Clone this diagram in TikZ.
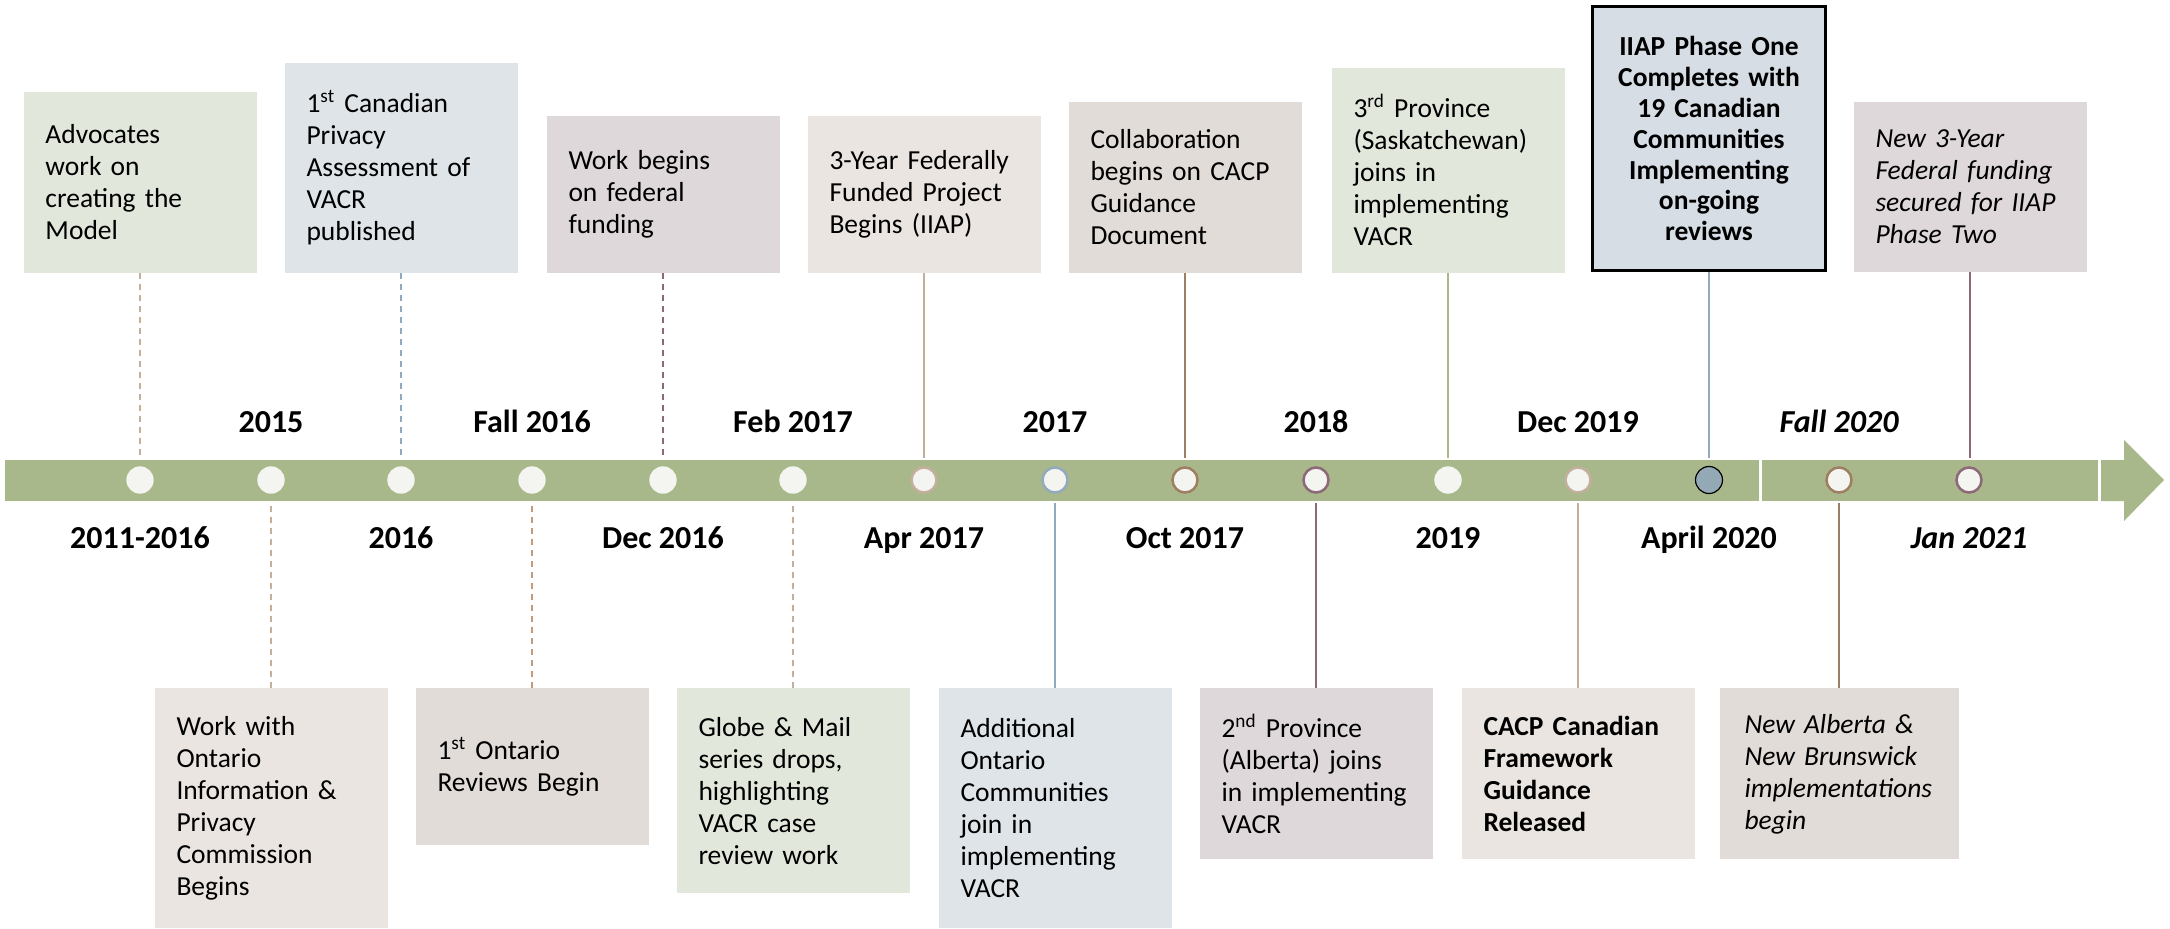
\documentclass[tikz,border=0pt]{standalone}
\usepackage{fontspec}
\setmainfont{Carlito}
\usetikzlibrary{positioning}

\definecolor{bargreen}{HTML}{A8B88A}
\definecolor{dotfill}{HTML}{F4F5F1}
\definecolor{tanline}{HTML}{C3AF9C}
\definecolor{blueline}{HTML}{93A9BD}
\definecolor{brownline}{HTML}{9E7F62}
\definecolor{mauveline}{HTML}{8C6878}
\definecolor{rustline}{HTML}{C49A7E}
\definecolor{greenbox}{HTML}{E2E7DC}
\definecolor{bluebox}{HTML}{DFE4E8}
\definecolor{mauvebox}{HTML}{DED8DA}
\definecolor{warmbox}{HTML}{EAE5E1}
\definecolor{greybox}{HTML}{E1DCD8}
\definecolor{keybox}{HTML}{D6DDE5}
\definecolor{keydot}{HTML}{93A9B5}

\tikzset{
  evbox/.style={rectangle, minimum width=116.5pt, inner xsep=11pt, text width=94.5pt,
    align=left, font=\fontsize{13.75}{16}\selectfont},
  topbox/.style={evbox, anchor=south},
  botbox/.style={evbox, anchor=north},
  evdot/.style={circle, minimum size=13.7pt, inner sep=0pt, fill=dotfill},
  evring/.style={circle, minimum size=12.5pt, inner sep=0pt, fill=dotfill, draw=#1, line width=1.25pt},
  datelbl/.style={font=\fontsize{16}{19}\selectfont\bfseries, anchor=base},
  stemline/.style={draw=#1, line width=1.4pt},
  dashline/.style={draw=#1, line width=0.6pt, dash pattern=on 3pt off 2.5pt},
}

\begin{document}
\begin{tikzpicture}[x=0.5pt, y=-0.5pt]
	\useasboundingbox (0,0) rectangle (2170,928);

	% the time bar and its arrow
	\fill[bargreen] (5,460) rectangle (1759,501);
	\fill[bargreen] (1762,460) rectangle (2098,501);
	\fill[bargreen] (2101,460) -- (2124,460) -- (2124,440) -- (2164,480) -- (2124,521) -- (2124,501) -- (2101,501) -- cycle;
	\coordinate (bartop) at (0,458);
	\coordinate (barbot) at (0,503);

	% events
	\node[evdot] (c1) at (140,480) {};
	\node[evdot] (c2) at (271,480) {};
	\node[evdot] (c3) at (401,480) {};
	\node[evdot] (c4) at (532,480) {};
	\node[evdot] (c5) at (663,480) {};
	\node[evdot] (c6) at (793,480) {};
	\node[evring=tanline] (c7) at (924,480) {};
	\node[evring=blueline] (c8) at (1055,480) {};
	\node[evring=brownline] (c9) at (1185,480) {};
	\node[evring=mauveline] (c10) at (1316,480) {};
	\node[evdot] (c11) at (1448,480) {};
	\node[evring=tanline] (c12) at (1578,480) {};
	\node[circle, minimum size=13.5pt, inner sep=0pt, fill=keydot, draw=black, line width=0.6pt] (c13) at (1709,480) {};
	\node[evring=brownline] (c14) at (1839,480) {};
	\node[evring=mauveline] (c15) at (1969,480) {};

	% dates
	\node[datelbl] (d1) at (140,548) {2011-2016};
	\node[datelbl] (d2) at (271,432) {2015};
	\node[datelbl] (d3) at (401,548) {2016};
	\node[datelbl] (d4) at (532,432) {Fall 2016};
	\node[datelbl] (d5) at (663,548) {Dec 2016};
	\node[datelbl] (d6) at (793,432) {Feb 2017};
	\node[datelbl] (d7) at (924,548) {Apr 2017};
	\node[datelbl] (d8) at (1055,432) {2017};
	\node[datelbl] (d9) at (1185,548) {Oct 2017};
	\node[datelbl] (d10) at (1316,432) {2018};
	\node[datelbl] (d11) at (1448,548) {2019};
	\node[datelbl] (d12) at (1578,432) {Dec 2019};
	\node[datelbl] (d13) at (1709,548) {April 2020};
	\node[datelbl, font=\fontsize{16}{19}\selectfont\bfseries\itshape] (d14) at (1839,432) {Fall 2020};
	\node[datelbl, font=\fontsize{16}{19}\selectfont\bfseries\itshape] (d15) at (1969,548) {Jan 2021};

	% boxes above the bar
	\node[topbox, fill=greenbox, minimum height=90.5pt] (t1) at (140,273) {Advocates\\work on\\creating the\\Model};
	\node[topbox, fill=bluebox, minimum height=105pt] (t2) at (401,273) {1\textsuperscript{st} Canadian\\Privacy\\Assessment of\\VACR\\published};
	\node[topbox, fill=mauvebox, minimum height=78.5pt] (t3) at (663,273) {Work begins\\on federal\\funding};
	\node[topbox, fill=warmbox, minimum height=78.5pt] (t4) at (924,273) {3-Year Federally\\Funded Project\\Begins (IIAP)};
	\node[topbox, fill=greybox, minimum height=85.5pt] (t5) at (1185,273) {Collaboration\\begins on CACP\\Guidance\\Document};
	\node[topbox, fill=greenbox, minimum height=102.5pt] (t6) at (1448,273) {3\textsuperscript{rd} Province\\(Saskatchewan)\\joins in\\implementing\\VACR};
	\node[topbox, fill=keybox, draw=black, line width=1.3pt, minimum height=132pt, align=center,
	  font=\fontsize{13.75}{15.4}\selectfont\bfseries] (t7) at (1709,272) {IIAP Phase One\\Completes with\\19 Canadian\\Communities\\Implementing\\on-going\\reviews};
	\node[topbox, fill=mauvebox, minimum height=85pt, font=\fontsize{13.75}{16}\selectfont\itshape] (t8) at (1970,272) {New 3-Year\\Federal funding\\secured for IIAP\\Phase Two};

	% boxes below the bar
	\node[botbox, fill=warmbox, minimum height=120pt] (b1) at (271,688) {Work with\\Ontario\\Information \&\\Privacy\\Commission\\Begins};
	\node[botbox, fill=greybox, minimum height=78.5pt] (b2) at (532,688) {1\textsuperscript{st} Ontario\\Reviews Begin};
	\node[botbox, fill=greenbox, minimum height=102.5pt] (b3) at (793,688) {Globe \& Mail\\series drops,\\highlighting\\VACR case\\review work};
	\node[botbox, fill=bluebox, minimum height=120pt] (b4) at (1055,688) {Additional\\Ontario\\Communities\\join in\\implementing\\VACR};
	\node[botbox, fill=mauvebox, minimum height=85.5pt] (b5) at (1316,688) {2\textsuperscript{nd} Province\\(Alberta) joins\\in implementing\\VACR};
	\node[botbox, fill=warmbox, minimum height=85.5pt, font=\fontsize{13.75}{16}\selectfont\bfseries] (b6) at (1578,688) {CACP Canadian\\Framework\\Guidance\\Released};
	\node[botbox, fill=greybox, minimum height=85.5pt, minimum width=119.5pt, font=\fontsize{13.75}{16}\selectfont\itshape] (b7) at (1839,688) {New Alberta \&\\New Brunswick\\implementations\\begin};

	% connectors
	\draw[dashline=tanline] (t1.south) -- (t1.south |- bartop);
	\draw[dashline=blueline] (t2.south) -- (t2.south |- bartop);
	\draw[dashline=mauveline] (t3.south) -- (t3.south |- bartop);
	\draw[stemline=tanline] (t4.south) -- (t4.south |- bartop);
	\draw[stemline=brownline] (t5.south) -- (t5.south |- bartop);
	\draw[stemline=bargreen] (t6.south) -- (t6.south |- bartop);
	\draw[stemline=blueline] (t7.south) -- (t7.south |- bartop);
	\draw[stemline=mauveline] (t8.south) -- (t8.south |- bartop);
	\draw[dashline=tanline] (b1.north) -- (b1.north |- barbot);
	\draw[dashline=rustline] (b2.north) -- (b2.north |- barbot);
	\draw[dashline=tanline] (b3.north) -- (b3.north |- barbot);
	\draw[stemline=blueline] (b4.north) -- (b4.north |- barbot);
	\draw[stemline=mauveline] (b5.north) -- (b5.north |- barbot);
	\draw[stemline=tanline] (b6.north) -- (b6.north |- barbot);
	\draw[stemline=brownline] (b7.north) -- (b7.north |- barbot);
\end{tikzpicture}
\end{document}
